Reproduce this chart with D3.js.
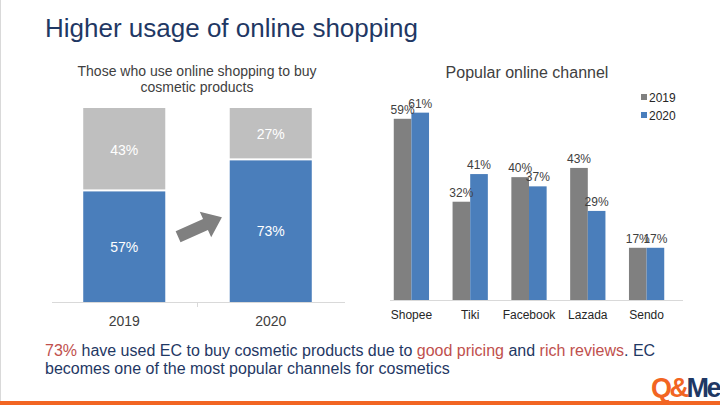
<!DOCTYPE html>
<html lang="en">
<head>
  <meta charset="UTF-8">
  <title>Higher usage of online shopping</title>
  <script src="https://cdn.jsdelivr.net/npm/d3@7"></script>
</head>
<body style="margin:0; background:#fff;">
<script>
  // left chart: share who use online shopping for cosmetics
  const years = ["2019", "2020"];
  const usePct = [57, 73];
  const notUsePct = [43, 27];

  // right chart: popular online channel
  const channels = ["Shopee", "Tiki", "Facebook", "Lazada", "Sendo"];
  const seriesNames = ["2019", "2020"];
  const ch2019 = [59, 32, 40, 43, 17];
  const ch2020 = [61, 41, 37, 29, 17];

  const width = 720, height = 405;
  const font = "'Liberation Sans', Arial, sans-serif";
  const navy = "#1F3864", red = "#C0504D", blue = "#4A7EBB", orange = "#F26522";

  const svg = d3.select("body").append("svg")
    .attr("width", width).attr("height", height)
    .style("font-family", font);

  svg.append("rect").attr("width", width).attr("height", height).attr("fill", "#fff");
  svg.append("line").attr("x1", 0.5).attr("x2", 0.5).attr("y1", 0).attr("y2", 401)
    .attr("stroke", "#d9d9d9");

  svg.append("text")
    .attr("x", 45).attr("y", 37)
    .attr("fill", navy)
    .style("font-size", "26px")
    .text("Higher usage of online shopping");

  // ---- left stacked chart
  const xL = d3.scaleBand().domain(years).range([51, 344]).paddingInner(0.44).paddingOuter(0.22);
  const yL = d3.scaleLinear().domain([0, 100]).range([302, 108]);

  const left = svg.append("g");
  left.selectAll("text.sub")
    .data(["Those who use online shopping to buy", "cosmetic products"])
    .enter().append("text")
    .attr("x", 197).attr("y", (d, i) => 76 + i * 16)
    .attr("text-anchor", "middle")
    .attr("fill", "#404040")
    .style("font-size", "14px")
    .text(d => d);

  const stack = years.map((y, i) => ({year: y, use: usePct[i], notUse: notUsePct[i]}));

  left.selectAll("rect.use").data(stack).enter().append("rect")
    .attr("x", d => xL(d.year)).attr("width", xL.bandwidth())
    .attr("y", d => yL(d.use)).attr("height", d => yL(0) - yL(d.use))
    .attr("fill", blue);
  left.selectAll("rect.not").data(stack).enter().append("rect")
    .attr("x", d => xL(d.year)).attr("width", xL.bandwidth())
    .attr("y", d => yL(d.use + d.notUse)).attr("height", d => yL(d.use) - yL(d.use + d.notUse) - 2)
    .attr("fill", "#BFBFBF");

  left.selectAll("text.useLbl").data(stack).enter().append("text")
    .attr("x", d => xL(d.year) + xL.bandwidth() / 2)
    .attr("y", d => yL(d.use / 2) + 5)
    .attr("text-anchor", "middle").attr("fill", "#fff")
    .style("font-size", "14px")
    .text(d => d.use + "%");
  left.selectAll("text.notLbl").data(stack).enter().append("text")
    .attr("x", d => xL(d.year) + xL.bandwidth() / 2)
    .attr("y", d => yL(d.use + d.notUse / 2) + 5)
    .attr("text-anchor", "middle").attr("fill", "#fff")
    .style("font-size", "14px")
    .text(d => d.notUse + "%");

  const axL = left.append("g").attr("transform", "translate(0,302)")
    .call(d3.axisBottom(xL).tickSize(0).tickPadding(14));
  axL.select(".domain").attr("stroke", "#d9d9d9").attr("d", "M52,0.5H345");
  axL.selectAll("text").attr("fill", "#404040").style("font-size", "14px").style("font-family", font);
  left.append("line").attr("x1", 197.5).attr("x2", 197.5).attr("y1", 302).attr("y2", 307)
    .attr("stroke", "#d9d9d9");

  // arrow between the bars
  const arrow = [[-24, -6], [6, -6], [6, -14], [24, 0], [6, 14], [6, 6], [-24, 6]];
  left.append("path")
    .attr("d", d3.line()(arrow) + "Z")
    .attr("transform", "translate(200,227) rotate(-24)")
    .attr("fill", "#808080");

  // ---- right grouped chart
  const xR = d3.scaleBand().domain(channels).range([382, 676]).paddingInner(0.4).paddingOuter(0.2);
  const x1 = d3.scaleBand().domain(seriesNames).range([0, xR.bandwidth()]);
  const yR = d3.scaleLinear().domain([0, 70]).range([300, 85]);
  const colors = d3.scaleOrdinal().domain(seriesNames).range(["#808080", blue]);

  const right = svg.append("g");
  right.append("text")
    .attr("x", 527).attr("y", 78)
    .attr("text-anchor", "middle").attr("fill", "#404040")
    .style("font-size", "16px")
    .text("Popular online channel");

  const grouped = [];
  channels.forEach((c, i) => {
    grouped.push({ch: c, s: "2019", v: ch2019[i]});
    grouped.push({ch: c, s: "2020", v: ch2020[i]});
  });

  right.selectAll("rect").data(grouped).enter().append("rect")
    .attr("x", d => xR(d.ch) + x1(d.s)).attr("width", x1.bandwidth())
    .attr("y", d => yR(d.v)).attr("height", d => yR(0) - yR(d.v))
    .attr("fill", d => colors(d.s));

  right.selectAll("text.val").data(grouped).enter().append("text")
    .attr("x", d => xR(d.ch) + x1(d.s) + x1.bandwidth() / 2)
    .attr("y", d => yR(d.v) - 5)
    .attr("text-anchor", "middle").attr("fill", "#404040")
    .style("font-size", "12px")
    .text(d => d.v + "%");

  const axR = right.append("g").attr("transform", "translate(0,300)")
    .call(d3.axisBottom(xR).tickSize(0).tickPadding(10));
  axR.select(".domain").attr("stroke", "#d9d9d9").attr("d", "M390,0.5H683");
  axR.selectAll("text").attr("fill", "#262626").style("font-size", "12px").style("font-family", font);

  const legend = right.append("g").selectAll("g").data(seriesNames).enter().append("g")
    .attr("transform", (d, i) => `translate(641,${97 + i * 18})`);
  legend.append("rect").attr("x", 0).attr("y", -3).attr("width", 6).attr("height", 6)
    .attr("fill", d => colors(d));
  legend.append("text").attr("x", 8).attr("y", 4.5)
    .attr("fill", "#262626").style("font-size", "12px")
    .text(d => d);

  // ---- bottom note
  const note = svg.append("g").style("font-size", "16px");
  const l1 = note.append("text").attr("x", 45).attr("y", 356).attr("fill", navy);
  [["73%", red], [" have used EC to buy cosmetic products due to ", navy], ["good pricing", red],
   [" and ", navy], ["rich reviews", red], [". EC", navy]]
    .forEach(p => l1.append("tspan").attr("fill", p[1]).text(p[0]));
  note.append("text").attr("x", 45).attr("y", 374).attr("fill", navy)
    .text("becomes one of the most popular channels for cosmetics");

  // logo + orange line
  const logo = svg.append("text").attr("x", 719).attr("y", 397).attr("text-anchor", "end")
    .style("font-size", "27px").style("font-weight", "bold").style("letter-spacing", "-2.5px");
  logo.append("tspan").attr("fill", orange).text("Q&");
  logo.append("tspan").attr("fill", navy).text("Me");
  svg.append("rect").attr("x", 0).attr("y", 401).attr("width", width).attr("height", 4)
    .attr("fill", orange);
</script>
</body>
</html>
